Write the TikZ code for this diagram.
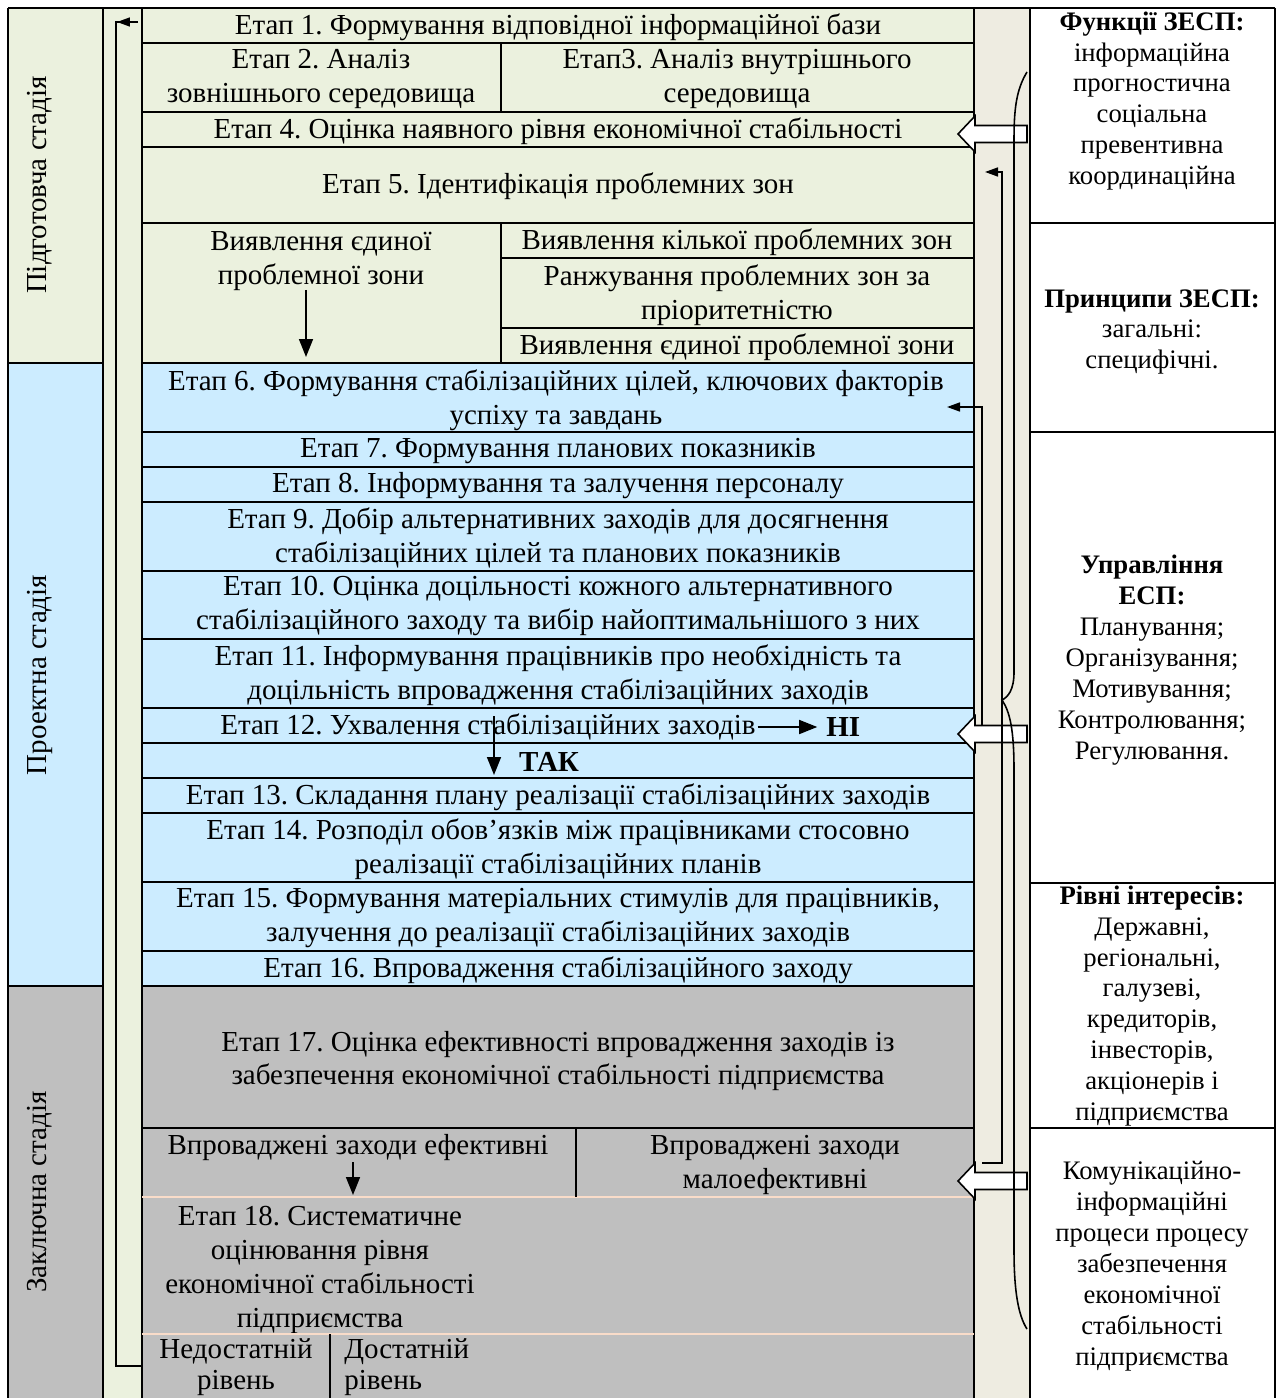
\documentclass[tikz,border=0pt]{standalone}
\usepackage{fontspec}
\setmainfont{Liberation Serif}
\usetikzlibrary{arrows.meta}
\frenchspacing

\definecolor{zelenyi}{HTML}{EBF1DE}
\definecolor{blakytnyi}{HTML}{CCECFF}
\definecolor{siryi}{HTML}{BFBFBF}
\definecolor{bezhevyi}{HTML}{EEECE1}
\definecolor{persykovyi}{HTML}{F9DCC9}

\tikzset{
    etap/.style={align=center, inner sep=0pt, font=\fontsize{16.5}{19.3}\selectfont},
    pravyi/.style={align=center, inner sep=0pt, font=\fontsize{15.2}{17.6}\selectfont},
    stadiia/.style={rotate=90, inner sep=0pt, font=\fontsize{16.5}{19.3}\selectfont},
    liniia/.style={draw=black, line width=1.1pt},
    strilka/.style={draw=black, line width=0.9pt, -{Triangle[length=0.26cm, width=0.18cm]}},
    strilka-velyka/.style={draw=black, line width=0.9pt, -{Triangle[length=0.36cm, width=0.28cm]}},
    porozhnia/.style={draw=black, line width=0.9pt, fill=white}
}

\begin{document}
\begin{tikzpicture}[x=0.02cm, y=-0.02cm]
    \useasboundingbox (0,0) rectangle (1280,1398);

    % stadii
    \foreach \ya/\yb/\kolir in {8/363/zelenyi, 363/986/blakytnyi, 986/1398/siryi}
        {\fill[\kolir] (8,\ya) rectangle (103,\yb);
        \fill[\kolir] (142,\ya) rectangle (974,\yb);}
    \fill[zelenyi] (103,8) rectangle (142,1398);
    \fill[bezhevyi] (974,8) rectangle (1030,1398);

    \node[stadiia] (pidgotovcha) at (40,185) {Підготовча стадія};
    \node[stadiia] (proektna) at (40,675) {Проектна стадія};
    \node[stadiia] (zakliuchna) at (40,1192) {Заключна стадія};

    % etapy
    \node[etap] (etap1) at (558,27) {Етап 1. Формування відповідної інформаційної бази};
    \node[etap] (etap2) at (321,79) {Етап 2. Аналіз\\зовнішнього середовища};
    \node[etap] (etap3) at (737,79) {Етап3. Аналіз внутрішнього\\середовища};
    \node[etap] (etap4) at (558,131) {Етап 4. Оцінка наявного рівня економічної стабільності};
    \node[etap] (etap5) at (558,186) {Етап 5. Ідентифікація проблемних зон};
    \node[etap] (yedyna) at (321,261) {Виявлення єдиної\\проблемної зони};
    \node[etap] (kilka) at (737,242) {Виявлення кілької проблемних зон};
    \node[etap] (ranzhuvannia) at (737,295) {Ранжування проблемних зон за\\пріоритетністю};
    \node[etap] (yedyna-zona) at (737,347) {Виявлення єдиної проблемної зони};
    \node[etap] (etap6) at (556,400) {Етап 6. Формування стабілізаційних цілей, ключових факторів\\успіху та завдань};
    \node[etap] (etap7) at (558,451) {Етап 7. Формування планових показників};
    \node[etap] (etap8) at (558,486) {Етап 8. Інформування та залучення персоналу};
    \node[etap] (etap9) at (558,538) {Етап 9. Добір альтернативних заходів для досягнення\\стабілізаційних цілей та планових показників};
    \node[etap] (etap10) at (558,606) {Етап 10. Оцінка доцільності кожного альтернативного\\стабілізаційного заходу та вибір найоптимальнішого з них};
    \node[etap] (etap11) at (558,675) {Етап 11. Інформування працівників про необхідність та\\доцільність впровадження стабілізаційних заходів};
    \node[etap] (etap12) at (488,727) {Етап 12. Ухвалення стабілізаційних заходів};
    \node[etap, anchor=west] (ni) at (826,727) {\textbf{НІ}};
    \node[etap] (tak) at (549,762) {\textbf{ТАК}};
    \node[etap] (etap13) at (558,797) {Етап 13. Складання плану реалізації стабілізаційних заходів};
    \node[etap] (etap14) at (558,849) {Етап 14. Розподіл обов’язків між працівниками стосовно\\реалізації стабілізаційних планів};
    \node[etap] (etap15) at (558,918) {Етап 15. Формування матеріальних стимулів для працівників,\\залучення до реалізації стабілізаційних заходів};
    \node[etap] (etap16) at (558,970) {Етап 16. Впровадження стабілізаційного заходу};
    \node[etap] (etap17) at (558,1061) {Етап 17. Оцінка ефективності впровадження заходів із\\забезпечення економічної стабільності підприємства};
    \node[etap] (efektyvni) at (358,1148) {Впроваджені заходи ефективні};
    \node[etap] (maloefektyvni) at (775,1165) {Впроваджені заходи\\малоефективні};
    \node[etap] (etap18) at (320,1270) {Етап 18. Систематичне\\оцінювання рівня\\економічної стабільності\\підприємства};
    \node[etap, font=\fontsize{16.5}{17.4}\selectfont] (nedostatnii) at (236,1367) {Недостатній\\рівень};
    \node[etap, font=\fontsize{16.5}{17.4}\selectfont, align=left, anchor=west] (dostatnii) at (344,1367) {Достатній\\рівень};

    % pravyi stovpets
    \node[pravyi] (funktsii) at (1152,101) {\textbf{Функції ЗЕСП:}\\інформаційна\\прогностична\\соціальна\\превентивна\\координаційна};
    \node[pravyi] (pryntsypy) at (1152,332) {\textbf{Принципи ЗЕСП:}\\загальні:\\специфічні.};
    \node[pravyi] (upravlinnia) at (1152,660) {\textbf{Управління}\\\textbf{ЕСП:}\\Планування;\\Організування;\\Мотивування;\\Контролювання;\\Регулювання.};
    \node[pravyi] (rivni) at (1152,1006) {\textbf{Рівні інтересів:}\\Державні,\\регіональні,\\галузеві,\\кредиторів,\\інвесторів,\\акціонерів і\\підприємства};
    \node[pravyi] (komunikatsii) at (1152,1266) {Комунікаційно-\\інформаційні\\процеси процесу\\забезпечення\\економічної\\стабільності\\підприємства};

    % linii
    \foreach \x in {8,103,142,974,1030,1275}
        \draw[liniia] (\x,8) -- (\x,1398);
    \draw[liniia] (8,8) -- (1275,8);
    \foreach \y in {363,986}
        \draw[liniia] (8,\y) -- (103,\y);
    \foreach \y in {43,112,147,223,363,432,467,502,571,639,708,743,778,813,882,951,986,1128}
        \draw[liniia] (142,\y) -- (974,\y);
    \foreach \y in {1197,1334}
        \draw[draw=persykovyi, line width=1.1pt] (142,\y) -- (974,\y);
    \foreach \y in {258,328}
        \draw[liniia] (501,\y) -- (974,\y);
    \draw[liniia] (501,43) -- (501,112);
    \draw[liniia] (501,223) -- (501,363);
    \draw[liniia] (576,1128) -- (576,1197);
    \draw[liniia] (330,1334) -- (330,1398);
    \foreach \y in {223,432,883,1128}
        \draw[liniia] (1030,\y) -- (1275,\y);

    % porozhni strilky
    \foreach \y in {134,734,1181}
        \draw[porozhnia] (1027,\y-8.5) -- (975,\y-8.5) -- (975,\y-18) -- (958,\y)
            -- (975,\y+18) -- (975,\y+8.5) -- (1027,\y+8.5) -- cycle;

    % zviazky
    \coordinate (yedyna-niz) at (306,290);
    \coordinate (etap6-verkh) at (306,357);
    \draw[strilka-velyka] (yedyna-niz) -- (etap6-verkh);

    \coordinate (tak-pochatok) at (494,716);
    \coordinate (etap13-verkh) at (494,775);
    \draw[strilka-velyka] (tak-pochatok) -- (etap13-verkh);
    \draw[strilka-velyka] ([xshift=1pt]etap12.east) -- ([xshift=-5pt]ni.west);

    \coordinate (efekt-niz) at (353,1162);
    \coordinate (etap18-verkh) at (353,1195);
    \draw[strilka-velyka] (efekt-niz) -- (etap18-verkh);

    \coordinate (petlia-niz) at (142,1366);
    \coordinate (petlia-verkh) at (138,22);
    \draw[draw=black, line width=0.9pt] (petlia-niz) -- (116,1366) -- (116,22) -- (petlia-verkh);
    \draw[strilka] (petlia-verkh) -- (117,22);

    \coordinate (malo-vykhid) at (982,1163);
    \coordinate (etap5-vkhid) at (985,172);
    \draw[strilka] (malo-vykhid) -- (1002,1163) -- (1002,172) -- (etap5-vkhid);

    \coordinate (ni-vykhid) at (982,726);
    \coordinate (etap6-vkhid) at (947,407);
    \draw[strilka] (ni-vykhid) -- (982,407) -- (etap6-vkhid);

    \draw[draw=black, line width=0.9pt] (1027,72) .. controls (1016,90) and (1014,110) .. (1014,140)
        -- (1014,672) .. controls (1014,690) and (1008,697) .. (1002,700)
        .. controls (1010,712) and (1014,730) .. (1014,770)
        -- (1014,1250) .. controls (1014,1290) and (1018,1315) .. (1027,1329);
\end{tikzpicture}
\end{document}
